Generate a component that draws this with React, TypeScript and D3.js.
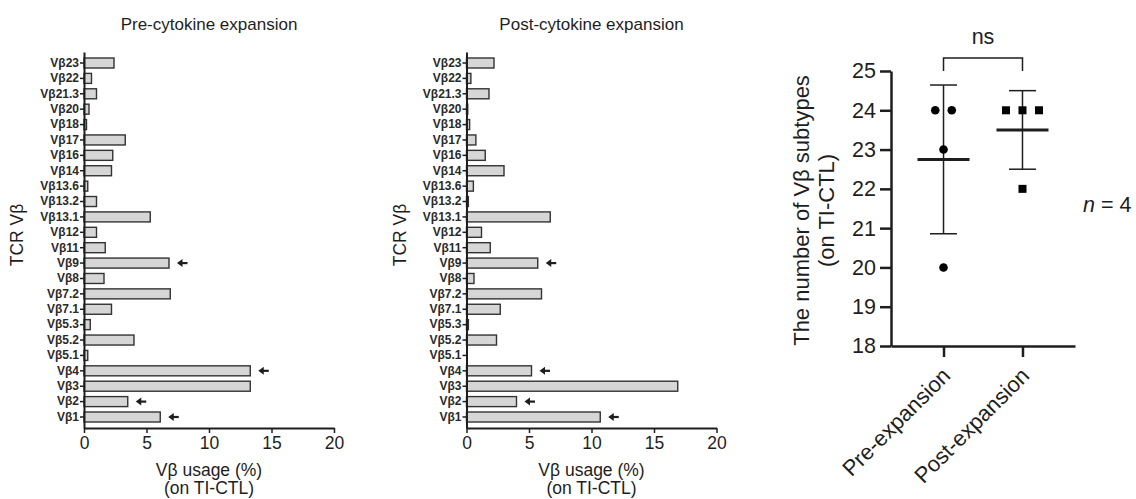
import React, { useEffect, useRef } from 'react';
import * as d3 from 'd3';

// TCR V-beta families, top to bottom as they appear on the axis
const categories = [
  "Vβ23", "Vβ22", "Vβ21.3", "Vβ20", "Vβ18", "Vβ17", "Vβ16", "Vβ14",
  "Vβ13.6", "Vβ13.2", "Vβ13.1", "Vβ12", "Vβ11", "Vβ9", "Vβ8", "Vβ7.2",
  "Vβ7.1", "Vβ5.3", "Vβ5.2", "Vβ5.1", "Vβ4", "Vβ3", "Vβ2", "Vβ1"
];
const preUsage = [2.4, 0.6, 1.0, 0.4, 0.2, 3.3, 2.3, 2.2, 0.3, 1.0, 5.3, 1.0, 1.7, 6.8, 1.6, 6.9, 2.2, 0.5, 4.0, 0.3, 13.3, 13.3, 3.5, 6.1];
const postUsage = [2.2, 0.35, 1.8, 0.1, 0.25, 0.75, 1.5, 3.0, 0.55, 0.15, 6.7, 1.2, 1.9, 5.7, 0.6, 6.0, 2.7, 0.15, 2.4, 0, 5.2, 16.9, 4.0, 10.7];
const arrowed = ["Vβ9", "Vβ4", "Vβ2", "Vβ1"];
const usageTicks = [0, 5, 10, 15, 20];

// number of V-beta subtypes per donor
const groups = ["Pre-expansion", "Post-expansion"];
const preCounts = [24, 24, 23, 20];
const postCounts = [24, 24, 24, 22];
const countTicks = [18, 19, 20, 21, 22, 23, 24, 25];

const FONT = "Arial, 'Liberation Sans', Helvetica, sans-serif";
const INK = "#1e1e1e";

const App = () => {
  const ref = useRef<SVGSVGElement>(null);

  useEffect(() => {
    const svg = d3.select(ref.current);
    svg.selectAll("*").remove();

    const drawBars = (left: number, title: string, values: number[]) => {
      const g = svg.append("g");
      const x = d3.scaleLinear().domain([0, 20]).range([left, left + 250]);
      const y = d3.scaleBand<string>()
        .domain(categories)
        .range([52, 428])
        .paddingInner(0.35)
        .paddingOuter(0.39);

      g.selectAll(".bar")
        .data(categories.map((c, i) => ({ c, v: values[i] })).filter(d => d.v > 0))
        .enter()
        .append("rect")
        .attr("x", x(0))
        .attr("y", d => y(d.c)!)
        .attr("width", d => x(d.v) - x(0))
        .attr("height", y.bandwidth())
        .attr("fill", "#d6d6d6")
        .attr("stroke", "#333")
        .attr("stroke-width", 1.4);

      // arrows marking the families of interest
      categories.forEach((c, i) => {
        if (!arrowed.includes(c)) return;
        const cy = y(c)! + y.bandwidth() / 2;
        const x0 = x(values[i]) + 8;
        g.append("path")
          .attr("d", `M${x0},${cy} L${x0 + 5.5},${cy - 4} L${x0 + 5.5},${cy + 4} Z`)
          .attr("fill", INK);
        g.append("line")
          .attr("x1", x0 + 4).attr("x2", x0 + 10.5)
          .attr("y1", cy).attr("y2", cy)
          .attr("stroke", INK).attr("stroke-width", 2.2);
      });

      const ya = g.append("g")
        .attr("transform", `translate(${left},0)`)
        .call(d3.axisLeft(y).tickSize(4).tickSizeOuter(0).tickPadding(1));
      ya.selectAll("text")
        .attr("font-family", FONT).attr("font-size", 12).attr("font-weight", "bold").attr("fill", "#2a2a2a");

      const xa = g.append("g")
        .attr("transform", `translate(0,428)`)
        .call(d3.axisBottom(x).tickValues(usageTicks).tickSize(5).tickSizeOuter(0).tickPadding(4));
      xa.selectAll("text")
        .attr("font-family", FONT).attr("font-size", 17.5).attr("fill", INK);

      [ya, xa].forEach(a => {
        a.select(".domain").attr("stroke", INK).attr("stroke-width", 2);
        a.selectAll(".tick line").attr("stroke", INK).attr("stroke-width", 1.5);
      });

      g.append("text")
        .attr("x", left + 125).attr("y", 30)
        .attr("text-anchor", "middle")
        .attr("font-family", FONT).attr("font-size", 17).attr("fill", INK)
        .text(title);

      g.append("text")
        .attr("x", left + 125).attr("y", 476)
        .attr("text-anchor", "middle")
        .attr("font-family", FONT).attr("font-size", 17.5).attr("fill", INK)
        .text("Vβ usage (%)");
      g.append("text")
        .attr("x", left + 125).attr("y", 494)
        .attr("text-anchor", "middle")
        .attr("font-family", FONT).attr("font-size", 17.5).attr("fill", INK)
        .text("(on TI-CTL)");

      g.append("text")
        .attr("transform", `translate(${left - 61},235) rotate(-90)`)
        .attr("text-anchor", "middle")
        .attr("font-family", FONT).attr("font-size", 17.5).attr("fill", INK)
        .text("TCR Vβ");
    };

    drawBars(84, "Pre-cytokine expansion", preUsage);
    drawBars(466.5, "Post-cytokine expansion", postUsage);

    // scatter with mean and SD
    const g = svg.append("g");
    const yS = d3.scaleLinear().domain([18, 25]).range([346, 71]);
    const xS = d3.scalePoint<string>().domain(groups).range([891, 1075]).padding(0.665);

    const ya = g.append("g")
      .attr("transform", "translate(891,0)")
      .call(d3.axisLeft(yS).tickValues(countTicks).tickFormat(d3.format("d")).tickSize(11).tickSizeOuter(0).tickPadding(4));
    ya.selectAll("text").attr("font-family", FONT).attr("font-size", 21.5).attr("fill", INK);

    const xa = g.append("g")
      .attr("transform", "translate(0,346)")
      .call(d3.axisBottom(xS).tickSize(11).tickSizeOuter(0));
    xa.selectAll("text").remove();

    [ya, xa].forEach(a => {
      a.select(".domain").attr("stroke", INK).attr("stroke-width", 2.5);
      a.selectAll(".tick line").attr("stroke", INK).attr("stroke-width", 2.5);
    });

    groups.forEach(name => {
      g.append("text")
        .attr("transform", `translate(${xS(name)! - 3},366) rotate(-45)`)
        .attr("text-anchor", "end")
        .attr("dy", "0.72em")
        .attr("font-family", FONT).attr("font-size", 22).attr("fill", INK)
        .text(name);
    });

    const series = [
      { name: groups[0], values: preCounts, shape: "circle" },
      { name: groups[1], values: postCounts, shape: "square" }
    ];

    series.forEach(s => {
      const cx = xS(s.name)!;
      const mean = d3.mean(s.values)!;
      const sd = d3.deviation(s.values)!;

      // SD whiskers
      g.append("line")
        .attr("x1", cx).attr("x2", cx)
        .attr("y1", yS(mean + sd)).attr("y2", yS(mean - sd))
        .attr("stroke", INK).attr("stroke-width", 1.5);
      [mean + sd, mean - sd].forEach(v => {
        g.append("line")
          .attr("x1", cx - 13.5).attr("x2", cx + 13.5)
          .attr("y1", yS(v)).attr("y2", yS(v))
          .attr("stroke", INK).attr("stroke-width", 1.5);
      });
      g.append("line")
        .attr("x1", cx - 26).attr("x2", cx + 26)
        .attr("y1", yS(mean)).attr("y2", yS(mean))
        .attr("stroke", INK).attr("stroke-width", 3);

      // spread tied values sideways
      const ties = d3.rollup(s.values, v => v.length, v => v);
      const seen = new Map<number, number>();
      s.values.forEach(v => {
        const k = ties.get(v)!;
        const idx = seen.get(v) || 0;
        seen.set(v, idx + 1);
        const px = cx + (idx - (k - 1) / 2) * 16.5;
        if (s.shape === "circle") {
          g.append("circle").attr("cx", px).attr("cy", yS(v)).attr("r", 4.3).attr("fill", "#000");
        } else {
          g.append("rect").attr("x", px - 4).attr("y", yS(v) - 4).attr("width", 8).attr("height", 8).attr("fill", "#000");
        }
      });
    });

    // significance bracket
    const bx0 = xS(groups[0])!;
    const bx1 = xS(groups[1])!;
    g.append("path")
      .attr("d", `M${bx0},71 V58 H${bx1} V71`)
      .attr("fill", "none").attr("stroke", INK).attr("stroke-width", 1.5);
    g.append("text")
      .attr("x", (bx0 + bx1) / 2).attr("y", 44)
      .attr("text-anchor", "middle")
      .attr("font-family", FONT).attr("font-size", 21.5).attr("fill", INK)
      .text("ns");

    const yt = g.append("text")
      .attr("transform", `translate(809,${yS(21.45)}) rotate(-90)`)
      .attr("text-anchor", "middle")
      .attr("font-family", FONT).attr("font-size", 22).attr("fill", INK);
    yt.append("tspan").attr("x", 0).attr("dy", 0).text("The number of Vβ subtypes");
    yt.append("tspan").attr("x", 0).attr("dy", 25).text("(on TI-CTL)");

    const nt = g.append("text")
      .attr("x", 1083).attr("y", 212)
      .attr("font-family", FONT).attr("font-size", 21.5).attr("fill", INK);
    nt.append("tspan").attr("font-style", "italic").text("n");
    nt.append("tspan").text(" = 4");
  }, []);

  return (
    <svg
      ref={ref}
      width={1136}
      height={499}
      style={{ position: "absolute", left: 0, top: 0, background: "#fff" }}
    />
  );
};

export default App;
